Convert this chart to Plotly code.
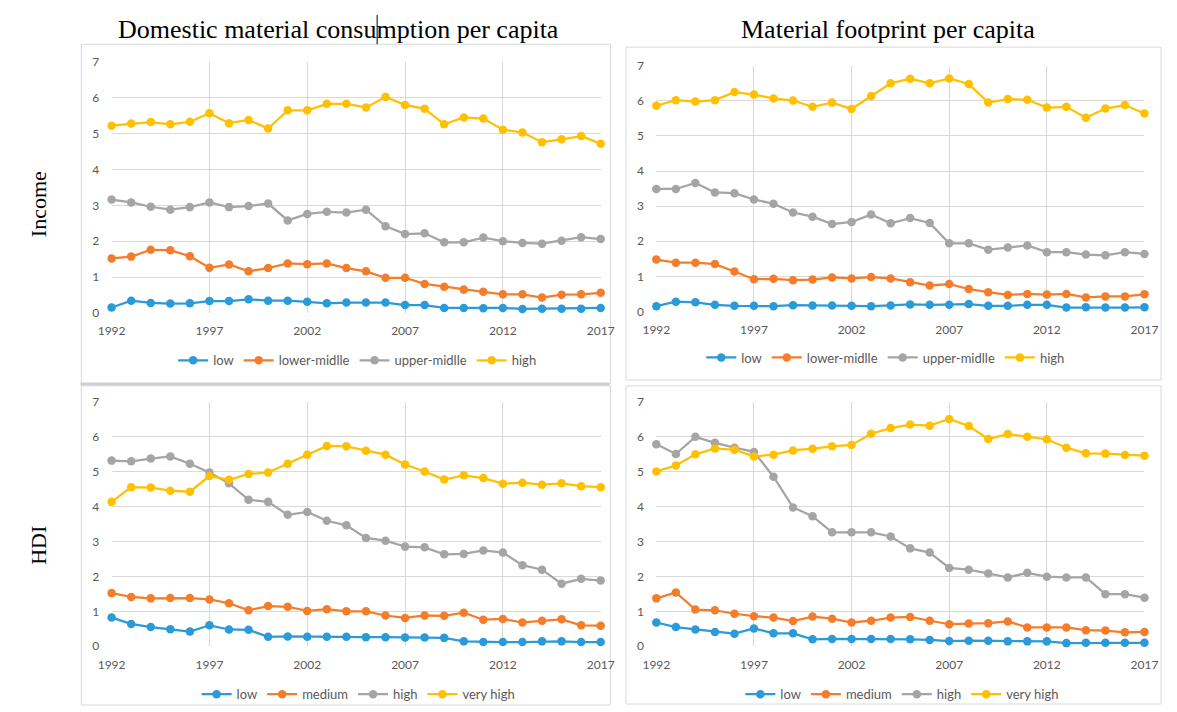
import plotly.graph_objects as go

years = list(range(1992, 2018))

# Panel 1: Domestic material consumption per capita, by income
dmc_inc_low = [0.15, 0.34, 0.28, 0.26, 0.27, 0.33, 0.33, 0.38, 0.34, 0.34, 0.31, 0.27, 0.29, 0.29, 0.29,
               0.22, 0.22, 0.14, 0.14, 0.13, 0.14, 0.11, 0.12, 0.12, 0.12, 0.14]
dmc_inc_lowmid = [1.52, 1.57, 1.76, 1.75, 1.58, 1.26, 1.35, 1.16, 1.25, 1.38, 1.36, 1.38, 1.25, 1.16, 0.98,
                  0.98, 0.81, 0.73, 0.65, 0.59, 0.52, 0.52, 0.43, 0.51, 0.52, 0.56]
dmc_inc_upmid = [3.16, 3.08, 2.96, 2.88, 2.95, 3.08, 2.95, 2.98, 3.05, 2.58, 2.76, 2.82, 2.80, 2.88, 2.42,
                 2.20, 2.22, 1.97, 1.97, 2.10, 2.00, 1.95, 1.93, 2.01, 2.11, 2.06]
dmc_inc_high = [5.22, 5.28, 5.32, 5.26, 5.33, 5.57, 5.29, 5.38, 5.14, 5.65, 5.65, 5.83, 5.83, 5.73, 6.02,
                5.80, 5.69, 5.26, 5.45, 5.42, 5.11, 5.03, 4.76, 4.84, 4.93, 4.72]

# Panel 2: Material footprint per capita, by income
mf_inc_low = [0.15, 0.28, 0.26, 0.19, 0.16, 0.16, 0.15, 0.18, 0.17, 0.17, 0.16, 0.15, 0.17, 0.20, 0.19,
              0.19, 0.21, 0.16, 0.16, 0.19, 0.19, 0.11, 0.12, 0.11, 0.11, 0.12]
mf_inc_lowmid = [1.48, 1.39, 1.39, 1.35, 1.14, 0.92, 0.93, 0.89, 0.91, 0.97, 0.94, 0.98, 0.94, 0.83, 0.74,
                 0.78, 0.64, 0.55, 0.47, 0.50, 0.48, 0.50, 0.40, 0.43, 0.43, 0.49]
mf_inc_upmid = [3.49, 3.49, 3.66, 3.39, 3.37, 3.19, 3.07, 2.82, 2.70, 2.49, 2.55, 2.76, 2.51, 2.66, 2.52,
                1.94, 1.94, 1.76, 1.82, 1.88, 1.69, 1.69, 1.62, 1.60, 1.69, 1.64]
mf_inc_high = [5.86, 6.02, 5.98, 6.02, 6.25, 6.18, 6.07, 6.01, 5.83, 5.95, 5.77, 6.14, 6.50, 6.63, 6.50,
               6.64, 6.48, 5.95, 6.05, 6.03, 5.81, 5.83, 5.52, 5.78, 5.88, 5.64]

# Panel 3: Domestic material consumption per capita, by HDI
dmc_hdi_low = [0.82, 0.64, 0.55, 0.49, 0.42, 0.60, 0.48, 0.47, 0.27, 0.28, 0.27, 0.27, 0.27, 0.26, 0.26,
               0.25, 0.25, 0.24, 0.14, 0.12, 0.12, 0.12, 0.14, 0.14, 0.12, 0.12]
dmc_hdi_medium = [1.52, 1.41, 1.37, 1.38, 1.38, 1.34, 1.23, 1.03, 1.15, 1.13, 1.01, 1.06, 1.00, 1.00, 0.88,
                  0.81, 0.88, 0.87, 0.96, 0.76, 0.78, 0.68, 0.73, 0.77, 0.60, 0.59]
dmc_hdi_high = [5.31, 5.29, 5.37, 5.43, 5.22, 4.97, 4.66, 4.19, 4.13, 3.76, 3.84, 3.59, 3.46, 3.10, 3.02,
                2.85, 2.83, 2.63, 2.64, 2.74, 2.68, 2.32, 2.19, 1.79, 1.93, 1.88]
dmc_hdi_vhigh = [4.13, 4.55, 4.54, 4.45, 4.42, 4.87, 4.76, 4.93, 4.97, 5.22, 5.48, 5.73, 5.72, 5.59, 5.48,
                 5.20, 5.00, 4.77, 4.89, 4.81, 4.65, 4.68, 4.62, 4.66, 4.58, 4.55]

# Panel 4: Material footprint per capita, by HDI
mf_hdi_low = [0.68, 0.55, 0.48, 0.41, 0.36, 0.51, 0.37, 0.37, 0.20, 0.21, 0.21, 0.21, 0.21, 0.20, 0.18,
              0.15, 0.16, 0.16, 0.14, 0.14, 0.14, 0.09, 0.10, 0.10, 0.10, 0.10]
mf_hdi_medium = [1.37, 1.54, 1.05, 1.03, 0.93, 0.86, 0.82, 0.72, 0.85, 0.79, 0.68, 0.73, 0.82, 0.84, 0.73,
                 0.63, 0.65, 0.66, 0.71, 0.54, 0.54, 0.54, 0.46, 0.45, 0.40, 0.41]
mf_hdi_high = [5.78, 5.50, 5.99, 5.82, 5.68, 5.56, 4.85, 3.97, 3.72, 3.26, 3.26, 3.26, 3.14, 2.80, 2.68,
               2.24, 2.19, 2.08, 1.97, 2.10, 1.99, 1.97, 1.97, 1.49, 1.49, 1.39]
mf_hdi_vhigh = [5.00, 5.17, 5.49, 5.66, 5.62, 5.43, 5.48, 5.60, 5.65, 5.72, 5.76, 6.08, 6.24, 6.34, 6.31,
                6.50, 6.30, 5.93, 6.07, 5.99, 5.92, 5.68, 5.52, 5.51, 5.47, 5.45]

income_names = ["low", "lower-midlle", "upper-midlle", "high"]
hdi_names = ["low", "medium", "high", "very high"]
col_titles = ["Domestic material consumption per capita", "Material footprint per capita"]
row_titles = ["Income", "HDI"]
year_ticks = [1992, 1997, 2002, 2007, 2012, 2017]

colors = ["#2A9AD8", "#F47D2B", "#A5A5A5", "#FFC000"]

W, H = 1177, 712


def px(x):
    return x / W


def py(y):
    return 1 - y / H


panels = [
    dict(series=[dmc_inc_low, dmc_inc_lowmid, dmc_inc_upmid, dmc_inc_high], names=income_names,
         xd=[100, 601], yd=[55, 311.5], legend="legend", lx=352, ly=360),
    dict(series=[mf_inc_low, mf_inc_lowmid, mf_inc_upmid, mf_inc_high], names=income_names,
         xd=[658, 1158], yd=[59, 310], legend="legend2", lx=893, ly=357),
    dict(series=[dmc_hdi_low, dmc_hdi_medium, dmc_hdi_high, dmc_hdi_vhigh], names=hdi_names,
         xd=[100, 601], yd=[402, 652], legend="legend3", lx=353, ly=701),
    dict(series=[mf_hdi_low, mf_hdi_medium, mf_hdi_high, mf_hdi_vhigh], names=hdi_names,
         xd=[658, 1158], yd=[402, 652], legend="legend4", lx=910, ly=701),
]

fig = go.Figure()
tick_font = dict(family="Lato, Carlito, sans-serif", size=12, color="#595959")

layout = dict(width=W, height=H, margin=dict(l=0, r=0, t=0, b=0),
              paper_bgcolor="white", plot_bgcolor="white", showlegend=True)

for i, p in enumerate(panels):
    k = "" if i == 0 else str(i + 1)
    for s, name, c in zip(p["series"], p["names"], colors):
        fig.add_trace(go.Scatter(
            x=years, y=s, name=name, mode="lines+markers",
            line=dict(color=c, width=2.25), marker=dict(color=c, size=8.5),
            xaxis="x" + k, yaxis="y" + k, legend=p["legend"], cliponaxis=False))
    layout["xaxis" + k] = dict(
        domain=[px(p["xd"][0]), px(p["xd"][1])], range=[1992, 2017], anchor="y" + k,
        tickmode="array", tickvals=year_ticks, ticktext=[str(t) for t in year_ticks],
        showgrid=True, gridcolor="#D9D9D9", gridwidth=1, zeroline=False, showline=False,
        ticks="outside", ticklen=7, tickcolor="rgba(0,0,0,0)", tickfont=tick_font)
    layout["yaxis" + k] = dict(
        domain=[py(p["yd"][1]), py(p["yd"][0])], range=[0, 7], anchor="x" + k,
        tickmode="linear", tick0=0, dtick=1,
        showgrid=True, gridcolor="#D9D9D9", gridwidth=1, zeroline=False, showline=False,
        ticks="outside", ticklen=9, tickcolor="rgba(0,0,0,0)", tickfont=tick_font)
    layout[p["legend"]] = dict(
        orientation="h", x=px(p["lx"]), y=py(p["ly"]), xanchor="center", yanchor="middle",
        font=dict(family="Lato, Carlito, sans-serif", size=13, color="#595959"),
        bgcolor="rgba(0,0,0,0)", itemwidth=30, tracegroupgap=0)

fig.update_layout(**layout)

serif = dict(family="Liberation Serif, serif", size=26, color="black")
fig.add_annotation(x=px(332), y=py(22), xref="paper", yref="paper", text=col_titles[0],
                   showarrow=False, font=serif, xanchor="center", yanchor="middle")
fig.add_annotation(x=px(895), y=py(22), xref="paper", yref="paper", text=col_titles[1],
                   showarrow=False, font=serif, xanchor="center", yanchor="middle")
row_font = dict(family="Liberation Serif, serif", size=22, color="black")
fig.add_annotation(x=px(25), y=py(200), xref="paper", yref="paper", text=row_titles[0],
                   showarrow=False, font=row_font, textangle=-90, xanchor="center", yanchor="middle")
fig.add_annotation(x=px(25), y=py(549), xref="paper", yref="paper", text=row_titles[1],
                   showarrow=False, font=row_font, textangle=-90, xanchor="center", yanchor="middle")

box = dict(type="rect", xref="paper", yref="paper", line=dict(color="#D9D9D9", width=1),
           fillcolor="rgba(0,0,0,0)", layer="below")
fig.add_shape(x0=px(69), x1=px(611), y0=py(384), y1=py(37), **box)
fig.add_shape(x0=px(627), x1=px(1175), y0=py(380), y1=py(40), **box)
fig.add_shape(x0=px(69), x1=px(611), y0=py(712), y1=py(386), **box)
fig.add_shape(x0=px(627), x1=px(1175), y0=py(711), y1=py(386), **box)
# thicker separator under top-left chart
fig.add_shape(type="line", xref="paper", yref="paper", x0=px(68), x1=px(610), y0=py(384), y1=py(384),
              line=dict(color="#CFCFCF", width=3))
# text cursor in the title
fig.add_shape(type="line", xref="paper", yref="paper", x0=px(372), x1=px(372), y0=py(7), y1=py(37),
              line=dict(color="black", width=1))

fig.write_html("out.html", config={"displayModeBar": False},
               post_script="document.body.style.margin='0';document.body.style.overflow='hidden';")
